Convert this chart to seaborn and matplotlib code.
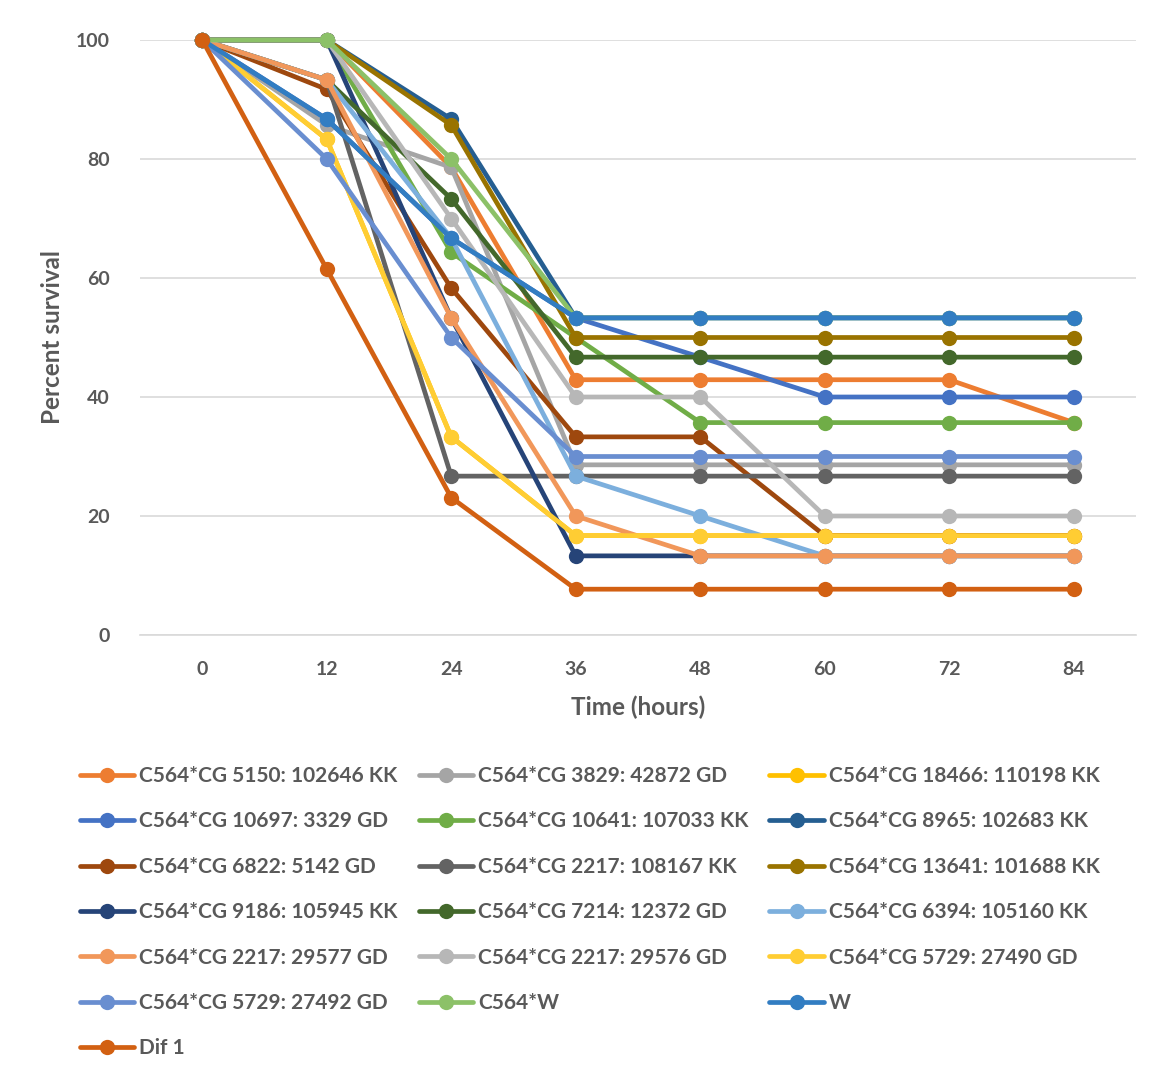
import matplotlib
matplotlib.use("Agg")
import matplotlib.pyplot as plt
from matplotlib.lines import Line2D
import pandas as pd
import seaborn as sns

hours = [0, 12, 24, 36, 48, 60, 72, 84]

strains = [
    "C564*CG 5150: 102646 KK",
    "C564*CG 3829: 42872 GD",
    "C564*CG 18466: 110198 KK",
    "C564*CG 10697: 3329 GD",
    "C564*CG 10641: 107033 KK",
    "C564*CG 8965: 102683 KK",
    "C564*CG 6822: 5142 GD",
    "C564*CG 2217: 108167 KK",
    "C564*CG 13641: 101688 KK",
    "C564*CG 9186: 105945 KK",
    "C564*CG 7214: 12372 GD",
    "C564*CG 6394: 105160 KK",
    "C564*CG 2217: 29577 GD",
    "C564*CG 2217: 29576 GD",
    "C564*CG 5729: 27490 GD",
    "C564*CG 5729: 27492 GD",
    "C564*W",
    "W",
    "Dif 1",
]

survival = [
    [100, 100, 78.6, 42.9, 42.9, 42.9, 42.9, 35.7],
    [100, 85.7, 78.6, 28.6, 28.6, 28.6, 28.6, 28.6],
    [100, 83.3, 33.3, 16.7, 16.7, 16.7, 16.7, 16.7],
    [100, 86.7, 66.7, 53.3, 46.7, 40.0, 40.0, 40.0],
    [100, 100, 64.3, 50.0, 35.7, 35.7, 35.7, 35.7],
    [100, 100, 86.7, 53.3, 53.3, 53.3, 53.3, 53.3],
    [100, 91.7, 58.3, 33.3, 33.3, 16.7, 16.7, 16.7],
    [100, 93.3, 26.7, 26.7, 26.7, 26.7, 26.7, 26.7],
    [100, 100, 85.7, 50.0, 50.0, 50.0, 50.0, 50.0],
    [100, 100, 53.3, 13.3, 13.3, 13.3, 13.3, 13.3],
    [100, 93.3, 73.3, 46.7, 46.7, 46.7, 46.7, 46.7],
    [100, 93.3, 66.7, 26.7, 20.0, 13.3, 13.3, 13.3],
    [100, 93.3, 53.3, 20.0, 13.3, 13.3, 13.3, 13.3],
    [100, 100, 70.0, 40.0, 40.0, 20.0, 20.0, 20.0],
    [100, 83.3, 33.3, 16.7, 16.7, 16.7, 16.7, 16.7],
    [100, 80.0, 50.0, 30.0, 30.0, 30.0, 30.0, 30.0],
    [100, 100, 80.0, 53.3, 53.3, 53.3, 53.3, 53.3],
    [100, 86.7, 66.7, 53.3, 53.3, 53.3, 53.3, 53.3],
    [100, 61.5, 23.1, 7.7, 7.7, 7.7, 7.7, 7.7],
]

colors = [
    "#ED7D31", "#A5A5A5", "#FFC000", "#4472C4", "#70AD47", "#255E91",
    "#9E480E", "#636363", "#997300", "#264478", "#43682B", "#7CAFDD",
    "#F1975A", "#B7B7B7", "#FFCD33", "#698ED0", "#8CC168", "#327DC2",
    "#D26012",
]

y_ticks = [0, 20, 40, 60, 80, 100]

rows = []
for name, vals in zip(strains, survival):
    for h, v in zip(hours, vals):
        rows.append({"hours": h, "survival": v, "strain": name})
df = pd.DataFrame(rows)
palette = dict(zip(strains, colors))

sns.set_theme(style="white")
plt.rcParams["font.family"] = ["Lato", "DejaVu Sans"]
text_color = "#595959"

fig = plt.figure(figsize=(11.61, 10.74), dpi=100)
ax = fig.add_axes([140 / 1161, 1 - 635 / 1074, (1136 - 140) / 1161, (635 - 40) / 1074])

sns.lineplot(
    data=df, x="hours", y="survival", hue="strain", hue_order=strains,
    palette=palette, marker="o", markersize=11, markeredgewidth=0,
    linewidth=3.4, legend=False, sort=False, ax=ax, errorbar=None,
)

ax.set_xlim(-6, 90)
ax.set_ylim(0, 100)
ax.set_xticks(hours)
ax.set_xticklabels([str(h) for h in hours])
ax.set_yticks(y_ticks)
ax.yaxis.grid(True, color="#D9D9D9", linewidth=1.2)
ax.xaxis.grid(False)
for side in ["top", "right", "left"]:
    ax.spines[side].set_visible(False)
ax.spines["bottom"].set_color("#D9D9D9")
ax.spines["bottom"].set_linewidth(1.2)
ax.tick_params(axis="both", length=0, labelsize=14, colors=text_color)
ax.tick_params(axis="y", pad=22)
ax.tick_params(axis="x", pad=19)
for lab in ax.get_xticklabels() + ax.get_yticklabels():
    lab.set_fontweight("bold")
for ln in ax.lines:
    ln.set_clip_on(False)

ax.set_xlabel("Time (hours)", fontsize=17.5, fontweight="bold", color=text_color, labelpad=12)
ax.set_ylabel("Percent survival", fontsize=17.5, fontweight="bold", color=text_color, labelpad=8)

# legend entries are laid out row by row in three columns
ncol = 3
order = [i for c in range(ncol) for i in range(c, len(strains), ncol)]
handles = [
    Line2D([0], [0], color=colors[i], marker="o", markersize=11,
           markeredgewidth=0, linewidth=3.4)
    for i in order
]
labels = [strains[i] for i in order]
leg = fig.legend(
    handles, labels, ncol=ncol, loc="upper left",
    bbox_to_anchor=(80 / 1161, 1 - 766 / 1074), frameon=False,
    prop={"size": 15, "weight": "bold"}, handlelength=2.6,
    handletextpad=0.25, columnspacing=1.0, labelspacing=1.22,
    borderaxespad=0, borderpad=0,
)
for t in leg.get_texts():
    t.set_color(text_color)

fig.savefig("out.png", dpi=100)
